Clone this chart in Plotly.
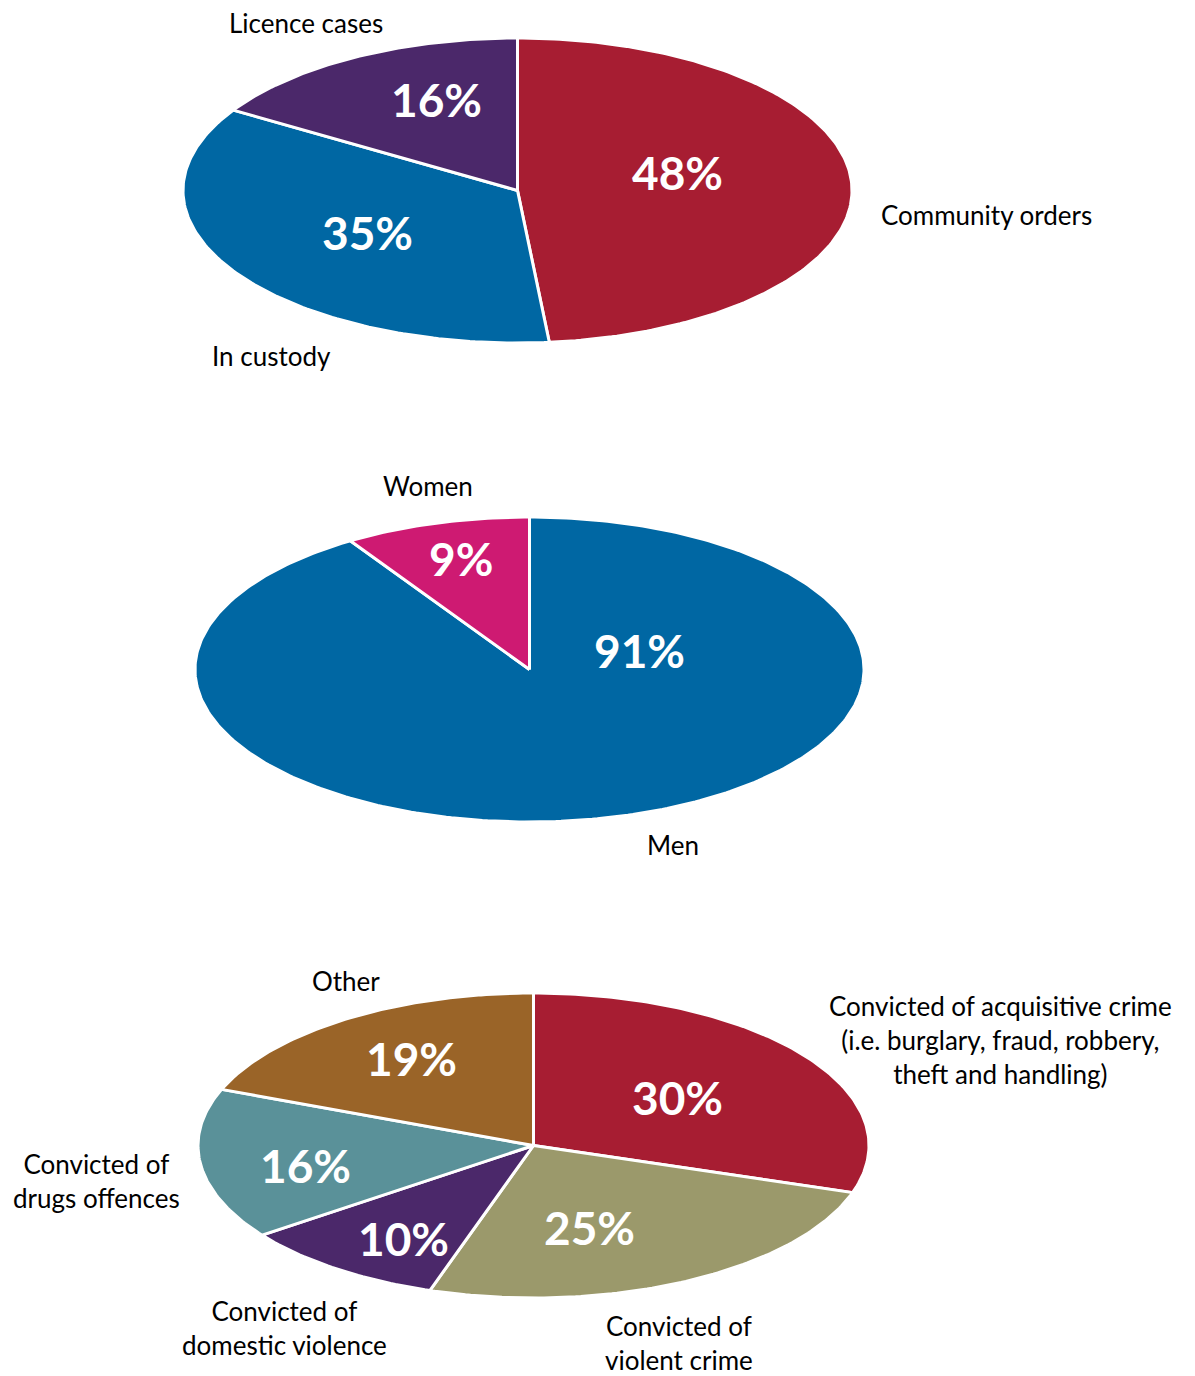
import math
import plotly.graph_objects as go

# ---- data ----
p1_labels = ["Community orders", "In custody", "Licence cases"]
p1_values = [48, 35, 16]
p1_colors = ["#A71D32", "#0067A3", "#4B286A"]

p2_labels = ["Men", "Women"]
p2_values = [91, 9]
p2_colors = ["#0067A3", "#CE1A72"]

p3_labels = ["Convicted of acquisitive crime<br>(i.e. burglary, fraud, robbery,<br>theft and handling)",
             "Convicted of<br>violent crime",
             "Convicted of<br>domestic violence",
             "Convicted of<br>drugs offences",
             "Other"]
p3_values = [30, 25, 10, 16, 19]
p3_colors = ["#A71D32", "#9B996B", "#4B286A", "#5A9199", "#9A6428"]

# ---- layout geometry (pixel space) ----
W, H = 1195, 1376
OFF = 8  # default body margin of the html page
pies = [
    dict(labels=p1_labels, values=p1_values, colors=p1_colors, cx=517.5, cy=190.5, rx=334.5, ry=152.5,
         pct_pos=[(677, 172), (367, 232), (436, 99)],
         lab_pos=[(986, 215), (271, 356), (306, 23)]),
    dict(labels=p2_labels, values=p2_values, colors=p2_colors, cx=529.5, cy=669.5, rx=334.5, ry=152.5,
         pct_pos=[(639, 650), (461, 558)],
         lab_pos=[(673, 845), (428, 486)]),
    dict(labels=p3_labels, values=p3_values, colors=p3_colors, cx=533.5, cy=1145.5, rx=335.5, ry=152.5,
         pct_pos=[(677, 1097), (589, 1227), (403, 1238), (305, 1165), (411, 1058)],
         lab_pos=[(1000, 1040), (679, 1343), (284, 1328), (96, 1181), (346, 981)]),
]

LABEL_FONT = "Lato"
fig = go.Figure()
annotations = []

for pie in pies:
    total = sum(pie["values"])
    start = 0.0
    for i, v in enumerate(pie["values"]):
        a0 = start / total * 2 * math.pi
        a1 = (start + v) / total * 2 * math.pi
        start += v
        n = max(8, int(v * 4))
        xs = [pie["cx"]]
        ys = [pie["cy"]]
        for k in range(n + 1):
            a = a0 + (a1 - a0) * k / n
            xs.append(pie["cx"] + pie["rx"] * math.sin(a))
            ys.append(pie["cy"] - pie["ry"] * math.cos(a))
        xs.append(pie["cx"])
        ys.append(pie["cy"])
        fig.add_trace(go.Scatter(x=xs, y=ys, mode="lines", fill="toself",
                                 fillcolor=pie["colors"][i],
                                 line=dict(color="white", width=3),
                                 hoverinfo="text", text=f"{v}%",
                                 showlegend=False))
        px, py = pie["pct_pos"][i]
        annotations.append(dict(x=px, y=py, xref="x", yref="y", text=f"<b>{v}%</b>",
                                showarrow=False, xanchor="center", yanchor="middle",
                                font=dict(family=LABEL_FONT, size=46, color="white")))
        lx, ly = pie["lab_pos"][i]
        annotations.append(dict(x=lx, y=ly, xref="x", yref="y", text=pie["labels"][i],
                                showarrow=False, xanchor="center", yanchor="middle",
                                align="center",
                                font=dict(family=LABEL_FONT, size=26, color="black")))

fig.update_layout(
    width=W - OFF, height=H - OFF,
    margin=dict(l=0, r=0, t=0, b=0),
    paper_bgcolor="white", plot_bgcolor="white",
    xaxis=dict(range=[OFF, W], visible=False, fixedrange=True),
    yaxis=dict(range=[H, OFF], visible=False, fixedrange=True),
    annotations=annotations,
    showlegend=False,
)

fig.write_html("out.html")
